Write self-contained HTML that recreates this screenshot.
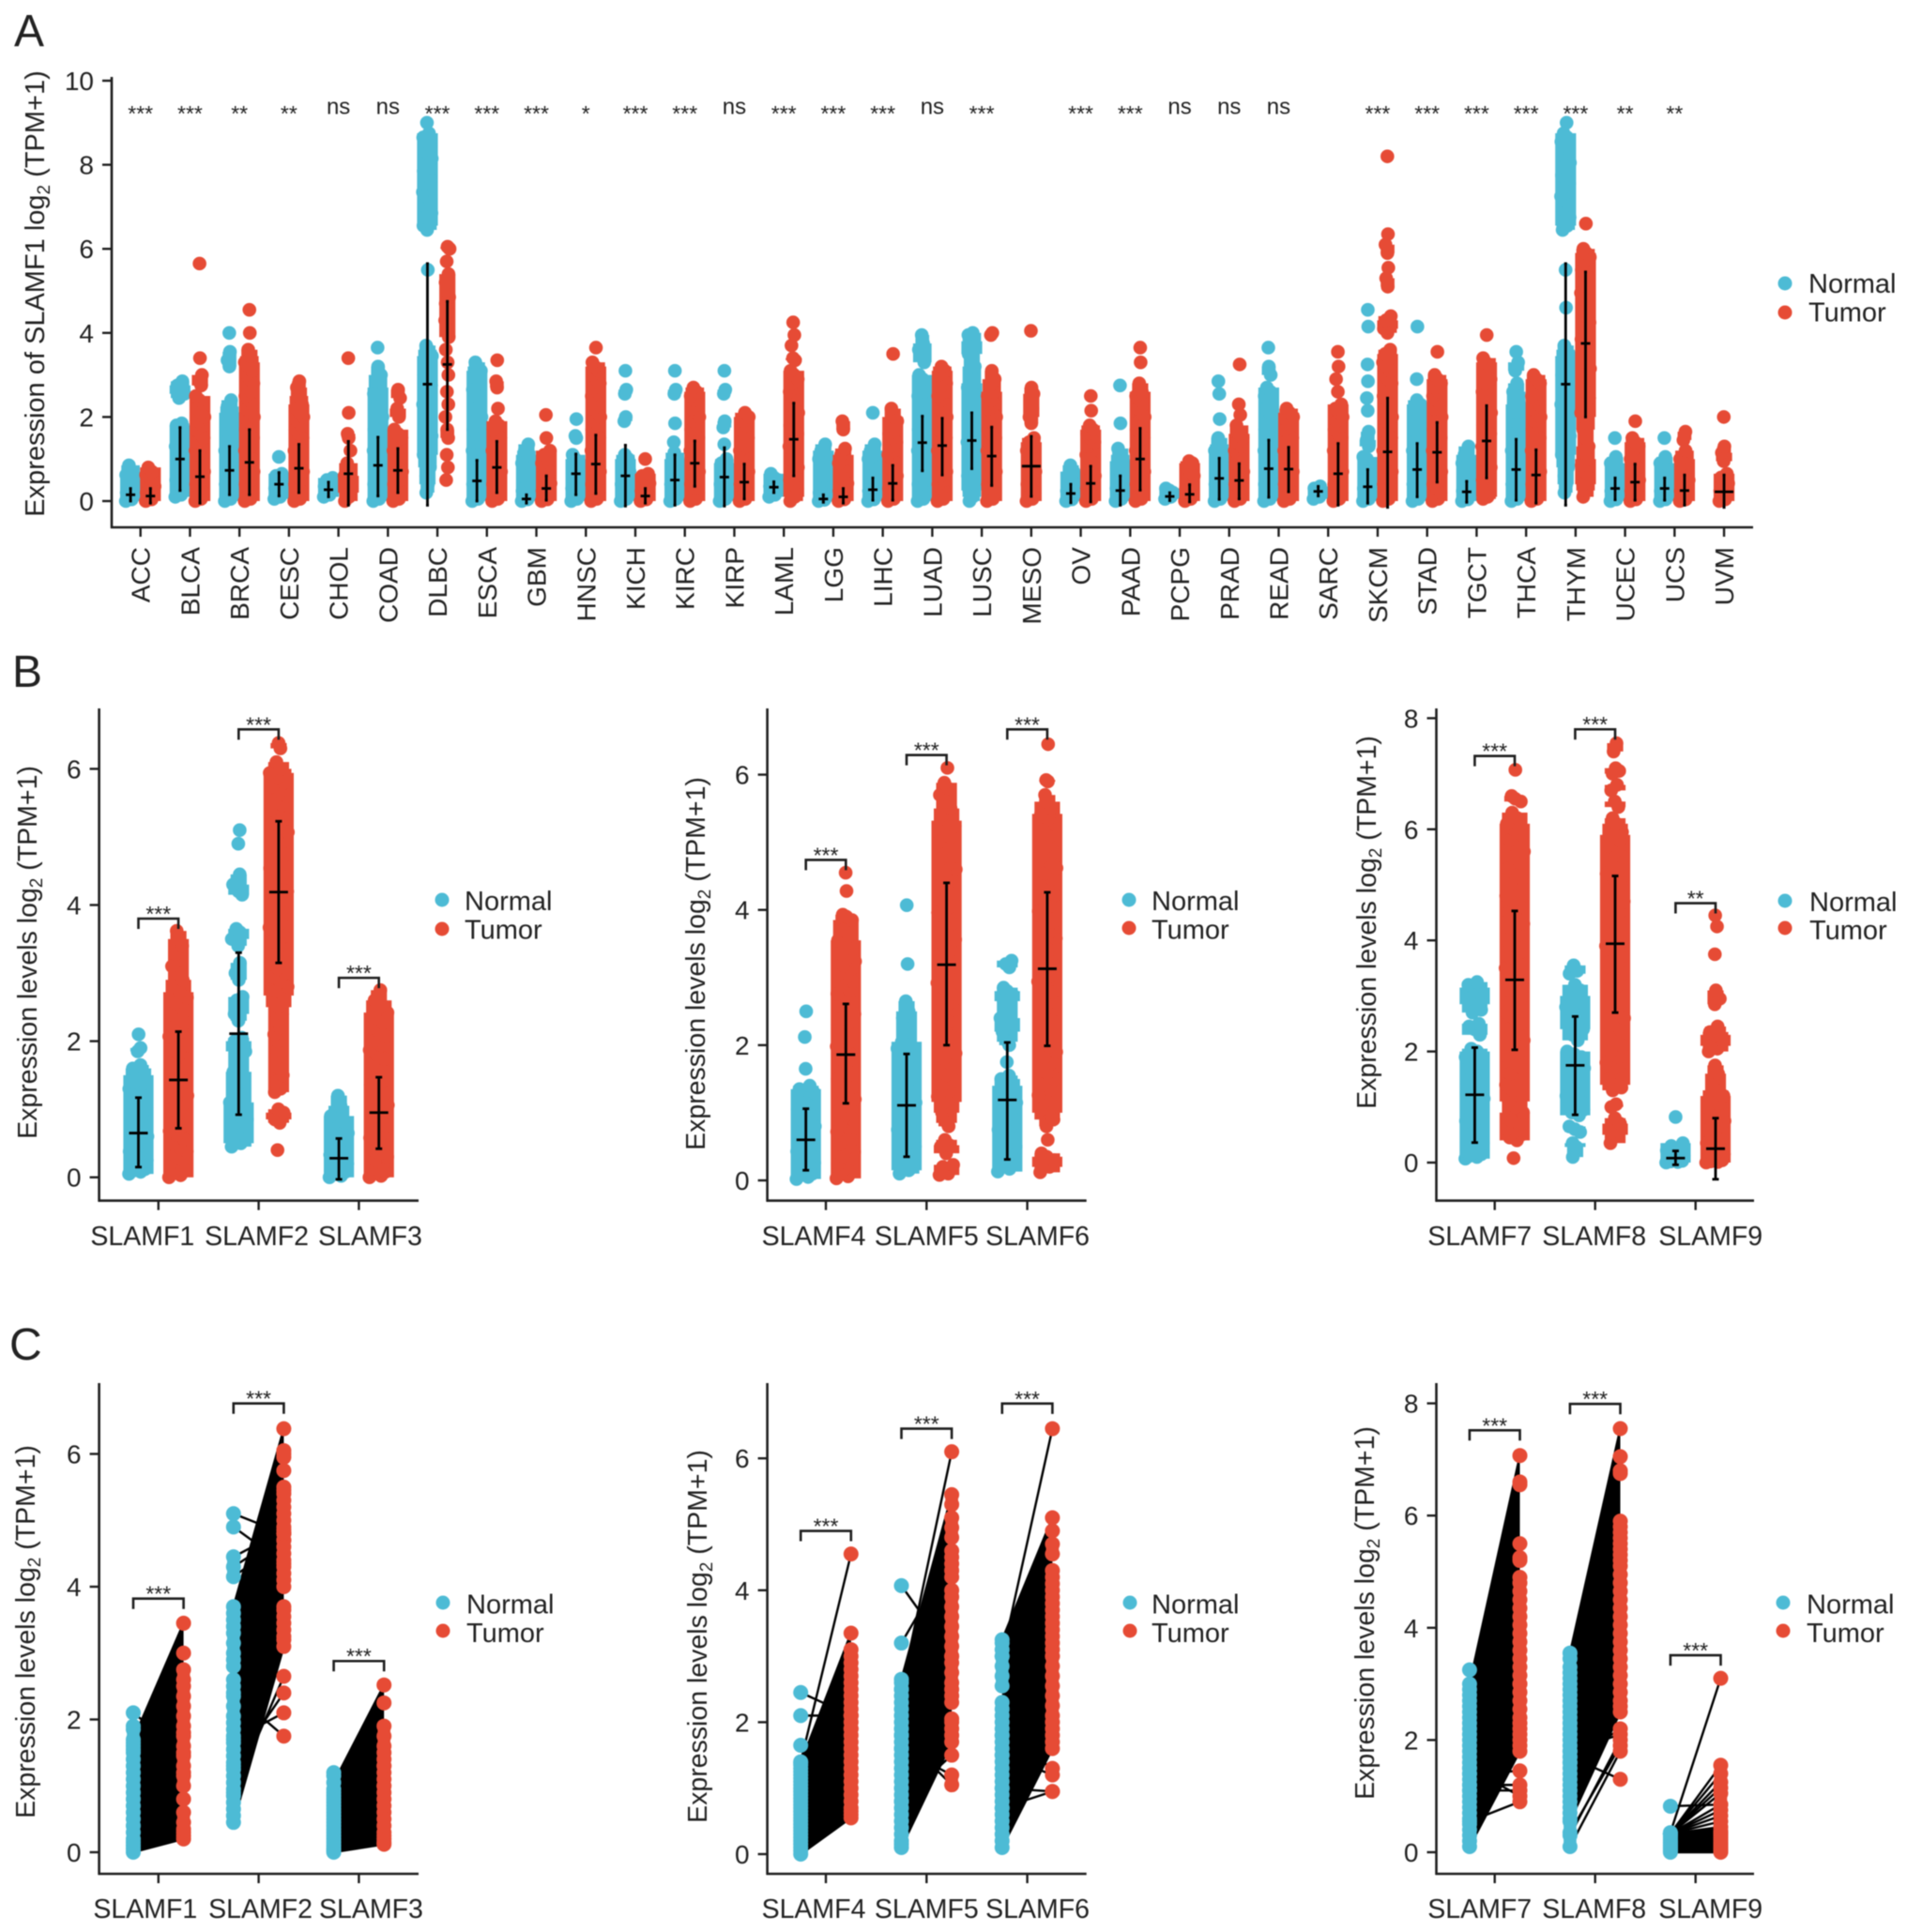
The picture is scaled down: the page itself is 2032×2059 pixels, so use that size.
<!DOCTYPE html>
<html lang="en"><head><meta charset="utf-8"><title>SLAMF expression figure</title>
<style>
html,body{margin:0;padding:0;background:#fff}
svg{display:block;font-family:"Liberation Sans",sans-serif;fill:#222;filter:blur(.6px)}
</style></head><body>
<svg id="figure" xmlns="http://www.w3.org/2000/svg" width="2032" height="2059" viewBox="0 0 2032 2059">
<rect width="2032" height="2059" fill="#fff"/>
<text x="15" y="49" font-size="48">A</text>
<text x="13" y="732" font-size="48">B</text>
<text x="10" y="1449" font-size="48">C</text>
<text transform="translate(47 313) rotate(-90)" text-anchor="middle" font-size="29">Expression of SLAMF1 log<tspan dy="6" font-size="19">2</tspan><tspan dy="-6"> (TPM+1)</tspan></text>
<text transform="translate(39 1015) rotate(-90)" text-anchor="middle" font-size="28.5">Expression levels log<tspan dy="6" font-size="19">2</tspan><tspan dy="-6"> (TPM+1)</tspan></text>
<text transform="translate(751 1027) rotate(-90)" text-anchor="middle" font-size="28.5">Expression levels log<tspan dy="6" font-size="19">2</tspan><tspan dy="-6"> (TPM+1)</tspan></text>
<text transform="translate(1466 983) rotate(-90)" text-anchor="middle" font-size="28.5">Expression levels log<tspan dy="6" font-size="19">2</tspan><tspan dy="-6"> (TPM+1)</tspan></text>
<text transform="translate(37 1739) rotate(-90)" text-anchor="middle" font-size="28.5">Expression levels log<tspan dy="6" font-size="19">2</tspan><tspan dy="-6"> (TPM+1)</tspan></text>
<text transform="translate(753 1744) rotate(-90)" text-anchor="middle" font-size="28.5">Expression levels log<tspan dy="6" font-size="19">2</tspan><tspan dy="-6"> (TPM+1)</tspan></text>
<text transform="translate(1464 1719) rotate(-90)" text-anchor="middle" font-size="28.5">Expression levels log<tspan dy="6" font-size="19">2</tspan><tspan dy="-6"> (TPM+1)</tspan></text>

<g><circle cx="1902" cy="302" r="7.5" fill="#4DBBD5"/><circle cx="1902" cy="333" r="7.5" fill="#E64B35"/><text x="1927" y="312" font-size="29">Normal</text><text x="1927" y="342.5" font-size="29">Tumor</text></g>
<g><circle cx="471" cy="959" r="7.5" fill="#4DBBD5"/><circle cx="471" cy="990" r="7.5" fill="#E64B35"/><text x="495" y="970" font-size="29">Normal</text><text x="495" y="1000.5" font-size="29">Tumor</text></g>
<g><circle cx="1203" cy="959" r="7.5" fill="#4DBBD5"/><circle cx="1203" cy="989" r="7.5" fill="#E64B35"/><text x="1227" y="970" font-size="29">Normal</text><text x="1227" y="1000.5" font-size="29">Tumor</text></g>
<g><circle cx="1902" cy="960" r="7.5" fill="#4DBBD5"/><circle cx="1902" cy="989" r="7.5" fill="#E64B35"/><text x="1928" y="971" font-size="29">Normal</text><text x="1928" y="1001" font-size="29">Tumor</text></g>
<g><circle cx="472" cy="1708" r="7.5" fill="#4DBBD5"/><circle cx="472" cy="1738" r="7.5" fill="#E64B35"/><text x="497" y="1719.5" font-size="29">Normal</text><text x="497" y="1750" font-size="29">Tumor</text></g>
<g><circle cx="1204" cy="1708" r="7.5" fill="#4DBBD5"/><circle cx="1204" cy="1738" r="7.5" fill="#E64B35"/><text x="1227" y="1719.5" font-size="29">Normal</text><text x="1227" y="1750" font-size="29">Tumor</text></g>
<g><circle cx="1900" cy="1708" r="7.5" fill="#4DBBD5"/><circle cx="1900" cy="1738" r="7.5" fill="#E64B35"/><text x="1925" y="1719.5" font-size="29">Normal</text><text x="1925" y="1750" font-size="29">Tumor</text></g>
</svg>
<script>
/* ---------- Panel A data ---------- */
const cancersA=["ACC","BLCA","BRCA","CESC","CHOL","COAD","DLBC","ESCA","GBM","HNSC","KICH","KIRC","KIRP","LAML","LGG","LIHC","LUAD","LUSC","MESO","OV","PAAD","PCPG","PRAD","READ","SARC","SKCM","STAD","TGCT","THCA","THYM","UCEC","UCS","UVM"];
const sigA=["***","***","**","**","ns","ns","***","***","***","*","***","***","ns","***","***","***","ns","***","","***","***","ns","ns","ns","","***","***","***","***","***","**","**",""];
const yTicksA=[0,2,4,6,8,10];
const normalA=[
[0,.04,.08,.12,.16,.2,.25,.3,.35,.4,.45,.5,.56,.62,.7,.85],
[.1,.15,.2,.3,.4,.5,.6,.7,.8,.9,1,1.1,1.2,1.3,1.4,1.5,1.6,1.7,1.8,1.85,2.45,2.55,2.65,2.75,2.85],
[0,.05,.1,.2,.3,.4,.5,.6,.7,.8,.9,1,1.1,1.2,1.3,1.4,1.5,1.6,1.7,1.8,1.9,2,2.1,2.25,2.4,3.2,3.35,3.55,4],
[.05,.1,.15,.2,.25,.3,.35,.4,.45,.5,.6,.65,1.05],
[.1,.15,.2,.25,.3,.35,.4,.5,.55],
[0,.05,.1,.2,.3,.4,.5,.6,.7,.8,.9,1,1.1,1.2,1.3,1.4,1.5,1.6,1.7,1.8,1.9,2,2.1,2.2,2.3,2.4,2.55,2.7,2.85,3,3.2,3.65],
[.2,.4,.6,.8,.95,1.1,1.25,1.4,1.55,1.7,1.85,2,2.15,2.3,2.45,2.6,2.75,2.9,3,3.15,3.3,3.45,3.6,3.7,5.5,6.45,6.55,6.65,6.75,6.85,6.95,7.05,7.15,7.25,7.35,7.45,7.55,7.65,7.75,7.85,7.95,8.05,8.15,8.25,8.35,8.45,8.55,8.65,8.75,9],
[0,.05,.1,.2,.3,.4,.5,.6,.7,.8,.9,1,1.1,1.2,1.3,1.4,1.5,1.6,1.7,1.8,1.9,2,2.1,2.2,2.35,2.5,2.65,2.8,2.95,3.1,3.2,3.3],
[0,.04,.08,.12,.18,.24,.3,.36,.42,.5,.6,.7,.8,.9,1.1,1.2,1.35],
[0,.05,.1,.15,.2,.3,.4,.5,.6,.7,.8,.9,1,1.1,1.5,1.55,1.95],
[0,.05,.1,.2,.3,.4,.5,.6,.7,.8,.9,1,1.1,1.9,2,2.55,2.65,3.1],
[0,.05,.1,.2,.3,.4,.5,.6,.7,.8,.9,1,1.15,1.4,1.85,2.55,2.65,3.1],
[0,.05,.1,.2,.3,.4,.5,.6,.7,.8,.9,1,1.35,1.75,1.9,2.55,2.65,3.1],
[.1,.15,.2,.25,.3,.35,.4,.45,.5,.55,.65],
[0,.03,.06,.1,.15,.2,.3,.4,.5,.6,.7,.8,.9,1,1.1,1.2,1.35],
[0,.04,.08,.12,.18,.24,.3,.4,.5,.6,.7,.8,.9,1,1.1,1.2,1.35,2.1],
[0,.05,.1,.2,.3,.4,.5,.6,.7,.8,.9,1,1.1,1.2,1.3,1.4,1.5,1.6,1.7,1.8,1.9,2,2.1,2.2,2.3,2.4,2.5,2.6,2.7,2.8,2.9,3,3.3,3.45,3.6,3.75,3.95],
[0,.1,.25,.4,.5,.6,.7,.8,.9,1,1.1,1.2,1.3,1.4,1.5,1.6,1.7,1.8,1.9,2,2.1,2.2,2.3,2.4,2.5,2.6,2.7,2.8,3,3.2,3.35,3.5,3.7,3.8,3.95,4],
[],
[0,.04,.08,.12,.18,.24,.3,.36,.42,.5,.6,.7,.85],
[0,.05,.1,.15,.2,.3,.4,.5,.6,.7,.8,.95,1.1,1.25,1.85,2.75],
[.05,.1,.15,.2,.25,.3],
[0,.05,.1,.2,.3,.4,.5,.6,.7,.8,.9,1,1.1,1.2,1.35,1.5,1.95,2.55,2.85],
[0,.05,.1,.2,.3,.4,.5,.6,.7,.8,.9,1,1.1,1.2,1.3,1.4,1.5,1.6,1.7,1.8,1.9,2,2.1,2.2,2.3,2.4,2.5,2.6,2.7,3,3.2,3.65],
[.05,.1,.15,.2,.25,.3,.35],
[0,.05,.1,.15,.2,.3,.4,.5,.6,.7,.8,.9,1,1.05,1.3,1.45,1.65,2.15,2.45,2.85,3.25,4.15,4.55],
[0,.05,.1,.2,.3,.4,.5,.6,.7,.8,.9,1,1.1,1.2,1.3,1.4,1.5,1.6,1.7,1.8,1.9,2,2.1,2.2,2.3,2.4,2.9,4.15],
[0,.04,.08,.12,.18,.24,.3,.36,.42,.5,.6,.7,.8,.9,1,1.1,1.3],
[0,.05,.1,.2,.3,.4,.5,.6,.7,.8,.9,1,1.1,1.2,1.3,1.4,1.5,1.6,1.7,1.8,1.9,2,2.1,2.2,2.3,2.45,2.6,2.8,3.1,3.3,3.55],
[.2,.4,.6,.8,.95,1.1,1.25,1.4,1.55,1.7,1.85,2,2.15,2.3,2.45,2.6,2.75,2.9,3,3.15,3.3,3.45,3.6,3.7,4.6,5.5,6.45,6.55,6.65,6.75,6.85,6.95,7.05,7.15,7.25,7.35,7.45,7.55,7.65,7.75,7.85,7.95,8.05,8.15,8.25,8.35,8.45,8.55,8.65,8.75,9],
[0,.04,.08,.12,.18,.24,.3,.36,.42,.5,.6,.7,.8,.9,1.05,1.5],
[0,.04,.08,.12,.18,.24,.3,.36,.42,.5,.6,.7,.8,.9,1.05,1.5],
[]
];
const tumorA=[
[0,.04,.08,.12,.16,.2,.25,.3,.35,.4,.45,.5,.56,.62,.7,.8],
[0,.05,.1,.2,.3,.4,.5,.6,.7,.8,.9,1,1.1,1.2,1.3,1.4,1.5,1.6,1.7,1.8,1.9,2,2.1,2.2,2.3,2.4,2.5,2.75,2.85,3,3.4,5.65],
[0,.05,.1,.2,.3,.4,.5,.6,.7,.8,.9,1,1.1,1.2,1.3,1.4,1.5,1.6,1.7,1.8,1.9,2,2.1,2.2,2.3,2.4,2.5,2.6,2.7,2.8,2.9,3,3.1,3.2,3.3,3.45,3.6,4,4.55],
[0,.05,.1,.2,.3,.4,.5,.6,.7,.8,.9,1,1.1,1.2,1.3,1.4,1.5,1.6,1.7,1.8,1.9,2,2.1,2.2,2.3,2.5,2.7,2.85],
[0,.1,.2,.3,.45,.6,.75,.9,1.2,1.5,1.6,2.1,3.4],
[0,.05,.1,.2,.3,.4,.5,.6,.7,.8,.9,1,1.1,1.2,1.3,1.4,1.5,1.6,1.7,2,2.2,2.45,2.65],
[.5,.8,1.1,1.5,1.7,2,2.3,2.6,3,3.3,3.6,3.9,4.1,4.3,4.5,4.7,4.85,5,5.2,5.4,5.7,6,6.05],
[0,.05,.1,.2,.3,.4,.5,.6,.7,.8,.9,1,1.1,1.2,1.3,1.4,1.5,1.6,1.7,1.8,1.9,2.2,2.7,2.85,3.35],
[0,.04,.08,.12,.18,.24,.3,.36,.42,.5,.6,.7,.8,.9,1,1.1,1.2,1.5,2.05],
[0,.05,.1,.2,.3,.4,.5,.6,.7,.8,.9,1,1.1,1.2,1.3,1.4,1.5,1.6,1.7,1.8,1.9,2,2.1,2.2,2.3,2.4,2.5,2.6,2.7,2.8,2.9,3,3.1,3.2,3.3,3.65],
[0,.04,.08,.12,.18,.24,.3,.36,.42,.5,.6,.65,1],
[0,.05,.1,.2,.3,.4,.5,.6,.7,.8,.9,1,1.1,1.2,1.3,1.4,1.5,1.6,1.7,1.8,1.9,2,2.1,2.2,2.3,2.4,2.5,2.6,2.7],
[0,.05,.1,.2,.3,.4,.5,.6,.7,.8,.9,1,1.1,1.2,1.3,1.4,1.5,1.6,1.7,1.8,1.9,2,2.1],
[0,.1,.2,.3,.4,.5,.6,.7,.8,.9,1,1.1,1.2,1.3,1.4,1.5,1.6,1.7,1.8,1.9,2,2.1,2.2,2.3,2.4,2.5,2.6,2.7,2.8,2.9,3,3.1,3.35,3.4,3.7,3.95,4.25],
[0,.04,.08,.12,.18,.24,.3,.36,.42,.5,.6,.7,.8,.9,1,1.1,1.25,1.7,1.9],
[0,.05,.1,.15,.2,.3,.4,.5,.6,.7,.8,.9,1,1.1,1.2,1.3,1.4,1.5,1.6,1.7,1.8,1.9,2,2.2,3.5],
[0,.05,.1,.2,.3,.4,.5,.6,.7,.8,.9,1,1.1,1.2,1.3,1.4,1.5,1.6,1.7,1.8,1.9,2,2.1,2.2,2.3,2.4,2.5,2.6,2.7,2.8,2.9,3,3.1,3.2],
[0,.05,.1,.2,.3,.4,.5,.6,.7,.8,.9,1,1.1,1.2,1.3,1.4,1.5,1.6,1.7,1.8,1.9,2,2.1,2.2,2.3,2.4,2.5,2.6,2.75,2.9,3.1,3.95,4],
[0,.05,.1,.2,.3,.4,.5,.6,.7,.8,.9,1,1.1,1.2,1.3,1.4,1.5,1.85,2,2.2,2.35,2.55,2.7,4.05],
[0,.05,.1,.15,.2,.3,.4,.5,.6,.7,.8,.9,1,1.1,1.2,1.3,1.4,1.5,1.6,1.7,1.8,2.15,2.5],
[0,.05,.1,.2,.3,.4,.5,.6,.7,.8,.9,1,1.1,1.2,1.3,1.4,1.5,1.6,1.7,1.8,1.9,2,2.1,2.2,2.3,2.4,2.5,2.6,2.8,3.3,3.65],
[0,.05,.1,.15,.2,.3,.4,.5,.6,.7,.8,.9,.95],
[0,.05,.1,.2,.3,.4,.5,.6,.7,.8,.9,1,1.1,1.2,1.3,1.4,1.5,1.6,1.8,2.05,2.3,3.25],
[0,.05,.1,.2,.3,.4,.5,.6,.7,.8,.9,1,1.1,1.2,1.3,1.4,1.5,1.6,1.7,1.8,1.9,2,2.1,2.2],
[0,.05,.1,.2,.3,.4,.5,.6,.7,.8,.9,1,1.1,1.2,1.3,1.4,1.5,1.6,1.7,1.8,1.9,2,2.1,2.2,2.3,2.6,2.9,3.2,3.55],
[0,.05,.1,.2,.3,.4,.5,.6,.7,.8,.9,1,1.1,1.2,1.3,1.4,1.5,1.6,1.7,1.8,1.9,2,2.1,2.2,2.3,2.4,2.5,2.6,2.7,2.8,2.9,3,3.1,3.2,3.3,3.4,3.5,3.6,4,4.1,4.2,4.3,4.4,5.1,5.3,5.55,5.9,6.1,6.35,8.2],
[0,.05,.1,.2,.3,.4,.5,.6,.7,.8,.9,1,1.1,1.2,1.3,1.4,1.5,1.6,1.7,1.8,1.9,2,2.1,2.2,2.3,2.4,2.5,2.6,2.7,2.8,2.9,3,3.55],
[.05,.1,.2,.3,.4,.5,.6,.7,.8,.9,1,1.1,1.2,1.3,1.4,1.5,1.6,1.7,1.8,1.9,2,2.1,2.2,2.3,2.4,2.5,2.6,2.7,2.8,2.9,3,3.1,3.2,3.3,3.4,3.95],
[0,.05,.1,.2,.3,.4,.5,.6,.7,.8,.9,1,1.1,1.2,1.3,1.4,1.5,1.6,1.7,1.8,1.9,2,2.1,2.2,2.3,2.4,2.5,2.6,2.7,2.8,2.9,3],
[.1,.25,.4,.55,.7,.85,1,1.15,1.3,1.5,1.7,1.85,2,2.1,2.2,2.3,2.45,2.6,2.75,2.9,3,3.15,3.3,3.45,3.6,3.7,3.85,4,4.1,4.25,4.4,4.55,4.65,4.8,4.95,5.1,5.2,5.3,5.4,5.5,5.6,5.7,5.8,5.9,6,6.6],
[0,.04,.08,.12,.18,.24,.3,.4,.5,.6,.7,.8,.9,1,1.1,1.2,1.3,1.4,1.5,1.9],
[0,.04,.08,.12,.18,.24,.3,.4,.5,.6,.7,.8,.9,1,1.2,1.45,1.65],
[0,.04,.08,.12,.18,.24,.3,.36,.42,.5,.56,.65,.95,1.15,1.3,2]
];
const statsNormalA=[[.15,0,.3],[1,.25,1.75],[.73,.15,1.3],[.4,.12,.68],[.27,.1,.45],[.85,.12,1.52],[2.78,-.1,5.65],[.48,0,.97],[.05,-.05,.15],[.65,.15,1.12],[.6,-.12,1.33],[.5,-.1,1.1],[.57,-.12,1.27],[.33,.2,.46],[.05,-.03,.15],[.27,.02,.55],[1.39,.72,2.02],[1.44,.77,2.1],null,[.18,-.04,.4],[.25,-.1,.6],[.11,.01,.2],[.54,.04,1.02],[.77,.09,1.45],[.23,.12,.35],[.34,-.05,.75],[.75,.1,1.37],[.22,-.03,.47],[.75,.02,1.47],[2.78,-.1,5.65],[.3,.03,.55],[.3,.02,.55],null];
const statsTumorA=[[.12,-.05,.3],[.58,-.05,1.2],[.92,.15,1.7],[.78,.2,1.35],[.65,-.1,1.42],[.73,.2,1.25],[3.25,1.7,4.75],[.8,.2,1.42],[.3,.02,.6],[.88,.18,1.57],[.12,-.05,.3],[.9,.35,1.43],[.45,.05,.88],[1.47,.6,2.33],[.1,-.05,.3],[.42,.02,.85],[1.32,.62,1.97],[1.07,.37,1.76],[.83,.11,1.54],[.42,-.02,.83],[1,.26,1.73],[.16,-.02,.39],[.49,.05,.89],[.76,.22,1.28],[.65,-.1,1.37],[1.17,-.15,2.45],[1.16,.45,1.87],[1.43,.55,2.27],[.62,-.05,1.22],[3.75,2,5.45],[.45,.02,.88],[.25,-.1,.62],[.22,-.15,.62]];

/* ---------- Panel B data ---------- */
const genesB1=["SLAMF1","SLAMF2","SLAMF3"];
const genesB2=["SLAMF4","SLAMF5","SLAMF6"];
const genesB3=["SLAMF7","SLAMF8","SLAMF9"];
const sigB1=["***","***","***"];
const sigB2=["***","***","***"];
const sigB3=["***","***","**"];
const yTicksB1=[0,2,4,6];
const yTicksB2=[0,2,4,6];
const yTicksB3=[0,2,4,6,8];
const bracketB1=[3.8,6.58,2.93];
const bracketB2=[4.74,6.29,6.67];
const bracketB3=[7.32,7.8,4.67];
const normalB1=[
[.05,.08,.1,.12,.15,.18,.2,.22,.25,.28,.3,.33,.35,.38,.4,.42,.45,.48,.5,.52,.55,.6,.65,.7,.75,.8,.85,.9,.95,1,1.05,1.1,1.2,1.25,1.3,1.35,1.4,1.45,1.5,1.6,1.65,1.85,1.9,2.1],
[.45,.5,.55,.6,.65,.7,.75,.8,.85,.9,.95,1,1.05,1.1,1.2,1.3,1.4,1.45,1.55,1.65,1.75,1.85,1.95,2,2.05,2.3,2.4,2.5,2.6,2.65,2.9,3,3.15,3.4,3.5,3.6,3.65,4.15,4.2,4.3,4.45,4.9,5.1],
[0,.02,.05,.08,.1,.12,.15,.18,.2,.22,.25,.28,.3,.33,.36,.4,.44,.48,.52,.56,.6,.65,.7,.75,.8,.85,.9,1.05,1.2]
];
const tumorB1=[
[0,.03,.06,.1,.15,.2,.26,.32,.38,.44,.5,.56,.62,.68,.74,.8,.87,.94,1,1.07,1.14,1.2,1.27,1.34,1.4,1.47,1.54,1.6,1.67,1.74,1.8,1.87,1.94,2,2.07,2.14,2.2,2.27,2.34,2.4,2.48,2.56,2.64,2.72,2.8,2.9,3,3.1,3.2,3.28,3.4,3.5,3.62],
[.4,.8,.85,.95,1,1.25,1.3,1.4,1.5,1.6,1.75,1.85,2,2.1,2.2,2.3,2.4,2.5,2.6,2.67,2.74,2.8,2.87,2.94,3,3.07,3.14,3.2,3.27,3.34,3.4,3.47,3.54,3.6,3.67,3.74,3.8,3.87,3.94,4,4.07,4.14,4.2,4.27,4.34,4.4,4.47,4.54,4.6,4.67,4.74,4.8,4.87,4.94,5,5.07,5.14,5.2,5.27,5.34,5.4,5.47,5.54,5.6,5.67,5.74,5.8,5.87,5.94,6,6.1,6.3,6.38],
[0,.02,.05,.08,.11,.15,.2,.25,.3,.35,.4,.46,.52,.58,.64,.7,.76,.82,.88,.94,1,1.06,1.12,1.18,1.24,1.3,1.36,1.42,1.48,1.54,1.6,1.67,1.74,1.8,1.87,1.94,2,2.07,2.14,2.2,2.27,2.34,2.42,2.5,2.6,2.75]
];
const statsNormalB1=[[.65,.15,1.17],[2.11,.92,3.3],[.28,-.03,.57]];
const statsTumorB1=[[1.43,.72,2.14],[4.19,3.15,5.23],[.95,.42,1.47]];
const normalB2=[
[.02,.05,.08,.1,.13,.16,.2,.23,.26,.3,.33,.36,.4,.43,.46,.5,.55,.6,.65,.7,.75,.8,.85,.9,.95,1,1.05,1.1,1.2,1.3,1.33,1.35,1.4,1.65,2.12,2.5],
[.1,.15,.2,.25,.3,.35,.4,.45,.5,.55,.6,.65,.7,.75,.8,.85,.9,.95,1,1.05,1.1,1.15,1.2,1.25,1.3,1.4,1.45,1.5,1.55,1.6,1.7,1.75,1.85,1.9,1.95,2,2.05,2.2,2.3,2.4,2.5,2.65,3.2,4.07],
[.13,.17,.2,.25,.3,.35,.4,.45,.5,.55,.6,.65,.7,.75,.8,.85,.9,.95,1,1.05,1.1,1.15,1.2,1.3,1.35,1.4,1.5,1.55,1.75,2,2.05,2.2,2.25,2.3,2.4,2.5,2.65,2.75,2.8,2.85,3.15,3.2,3.25]
];
const tumorB2=[
[.03,.06,.1,.14,.18,.24,.3,.36,.42,.48,.54,.6,.66,.72,.78,.84,.9,.96,1.02,1.08,1.14,1.2,1.26,1.32,1.38,1.44,1.5,1.56,1.62,1.68,1.74,1.8,1.86,1.92,1.98,2.04,2.1,2.16,2.22,2.28,2.34,2.4,2.46,2.52,2.58,2.64,2.7,2.76,2.82,2.88,2.94,3,3.06,3.12,3.18,3.24,3.3,3.36,3.42,3.48,3.55,3.62,3.7,3.85,3.9,3.93,4.28,4.55],
[.08,.1,.2,.23,.4,.5,.52,.6,.8,.85,1,1.08,1.16,1.24,1.32,1.4,1.48,1.56,1.64,1.72,1.8,1.88,1.96,2.04,2.12,2.2,2.28,2.36,2.44,2.52,2.6,2.68,2.76,2.84,2.92,3,3.08,3.16,3.24,3.32,3.4,3.48,3.56,3.64,3.72,3.8,3.88,3.96,4.04,4.12,4.2,4.28,4.36,4.44,4.52,4.6,4.68,4.76,4.84,4.92,5,5.08,5.16,5.24,5.32,5.4,5.5,5.6,5.7,5.8,5.88,6.1],
[.12,.2,.25,.3,.35,.4,.6,.8,.9,1,1.05,1.1,1.18,1.26,1.34,1.42,1.5,1.58,1.66,1.74,1.82,1.9,1.98,2.06,2.14,2.22,2.3,2.38,2.46,2.54,2.62,2.7,2.78,2.86,2.94,3.02,3.1,3.18,3.26,3.34,3.42,3.5,3.58,3.66,3.74,3.82,3.9,3.98,4.06,4.14,4.22,4.3,4.38,4.46,4.54,4.62,4.7,4.78,4.86,4.94,5.02,5.1,5.18,5.26,5.34,5.42,5.5,5.6,5.7,5.9,5.92,6.45]
];
const statsNormalB2=[[.6,.15,1.06],[1.11,.35,1.87],[1.19,.31,2.04]];
const statsTumorB2=[[1.86,1.14,2.61],[3.19,2,4.4],[3.13,1.99,4.26]];
const normalB3=[
[.07,.1,.12,.15,.18,.2,.25,.3,.35,.4,.5,.6,.7,.75,.8,.85,.9,.95,1,1.05,1.1,1.15,1.2,1.25,1.3,1.35,1.4,1.45,1.5,1.6,1.65,1.7,1.8,1.85,1.9,2,2.05,2.3,2.4,2.45,2.5,2.7,2.75,2.85,2.95,3.05,3.15,3.2,3.25],
[.1,.28,.35,.55,.6,.65,.85,.9,.95,1,1.05,1.1,1.15,1.2,1.25,1.3,1.4,1.45,1.5,1.6,1.65,1.7,1.75,1.8,1.9,1.95,2,2.2,2.3,2.4,2.5,2.55,2.6,2.7,2.8,2.9,3,3.1,3.2,3.4,3.45,3.55],
[0,.01,.02,.03,.05,.06,.08,.1,.12,.14,.16,.18,.2,.22,.25,.3,.35,.82]
];
const tumorB3=[
[.08,.4,.45,.5,.55,.6,.7,.75,.9,1,1.1,1.2,1.3,1.4,1.5,1.6,1.7,1.8,1.9,2,2.1,2.2,2.3,2.4,2.5,2.6,2.7,2.8,2.9,3,3.1,3.2,3.3,3.4,3.5,3.6,3.7,3.8,3.9,4,4.1,4.2,4.3,4.4,4.5,4.6,4.7,4.8,4.9,5,5.1,5.2,5.3,5.4,5.5,5.6,5.7,5.8,5.9,6,6.1,6.2,6.3,6.5,6.55,6.6,7.07],
[.35,.5,.55,.7,.8,1,1.05,1.3,1.35,1.4,1.5,1.6,1.7,1.8,1.9,2,2.1,2.2,2.3,2.4,2.5,2.6,2.7,2.8,2.9,3,3.1,3.2,3.3,3.4,3.5,3.6,3.7,3.8,3.9,4,4.1,4.2,4.3,4.4,4.5,4.6,4.7,4.8,4.9,5,5.1,5.2,5.3,5.4,5.5,5.6,5.7,5.8,5.9,5.95,6.1,6.2,6.4,6.5,6.7,6.8,7,7.05,7.1,7.4,7.55],
[0,.01,.02,.04,.06,.08,.1,.12,.15,.18,.2,.25,.3,.35,.4,.45,.5,.55,.6,.65,.7,.75,.8,.85,.9,.95,1,1.05,1.1,1.2,1.3,1.45,1.6,1.75,2,2.05,2.1,2.2,2.3,2.35,2.45,2.85,2.95,3.1,3.75,4.25,4.45]
];
const statsNormalB3=[[1.22,.36,2.07],[1.75,.86,2.63],[.08,-.04,.21]];
const statsTumorB3=[[3.29,2.03,4.53],[3.94,2.7,5.16],[.25,-.3,.8]];

/* ---------- Panel C data (paired samples: normal[i] joins tumor[i]) ---------- */
const sigC1=["***","***","***"];
const sigC2=["***","***","***"];
const sigC3=["***","***","***"];
const bracketC1=[3.82,6.76,2.88];
const bracketC2=[4.9,6.45,6.83];
const bracketC3=[7.52,7.99,3.51];
/* number of leading pairs that belong to the dense bundle; the rest are individual crossing lines */
const bundleC1=[22,30,22];
const bundleC2=[30,28,29];
const bundleC3=[30,31,16];
const normalC1=[
[0,.05,.1,.15,.2,.3,.4,.5,.6,.7,.8,.9,1,1.1,1.2,1.3,1.4,1.5,1.55,1.6,1.65,1.7,2.1,1.9,1.85],
[.45,.55,.65,.75,.85,.95,1.05,1.15,1.25,1.35,1.45,1.55,1.65,1.75,1.85,1.95,2.05,2.2,2.35,2.5,2.6,2.8,2.9,3,3.15,3.3,3.4,3.5,3.6,3.7,4.15,4.3,4.45,5.1,4.9,.9,1.3,1.7,2.4],
[0,.03,.06,.1,.15,.2,.25,.3,.35,.4,.45,.5,.55,.6,.65,.7,.75,.8,.85,.9,.95,1.05,1.15,1.2]
];
const tumorC1=[
[.2,.25,.3,.35,.45,.6,.8,1,1.15,1.3,1.45,1.6,1.75,1.9,2.05,2.2,2.35,2.5,2.6,2.75,3,3.45,1.5,1.2,1.8],
[3.1,3.2,3.25,3.35,3.45,3.55,3.65,3.7,4,4.1,4.2,4.3,4.4,4.5,4.6,4.7,4.8,4.9,5,5.1,5.2,5.3,5.4,5.45,5.5,5.75,5.95,6,6.05,6.38,4.7,4.8,4.85,4.8,4.35,2.65,2.4,2.1,1.75],
[.12,.15,.2,.25,.3,.4,.5,.6,.7,.8,.9,1,1.1,1.2,1.3,1.4,1.5,1.6,1.75,1.9,2.25,2.52,1.3,1]
];
const normalC2=[
[0,.05,.1,.15,.2,.25,.3,.35,.4,.45,.5,.55,.6,.65,.7,.75,.8,.85,.9,.95,1,1.05,1.1,1.15,1.2,1.25,1.3,1.35,1.38,1.4,1.65,2.45,2.1],
[.1,.15,.2,.3,.4,.5,.6,.7,.8,.9,1,1.1,1.2,1.3,1.4,1.5,1.6,1.7,1.8,1.9,2,2.1,2.2,2.3,2.4,2.5,2.6,2.65,3.2,4.07,2.5,1.8,1.6,.8],
[.1,.2,.3,.4,.5,.6,.7,.8,.9,1,1.1,1.2,1.3,1.4,1.5,1.6,1.7,1.8,1.9,2,2.1,2.2,2.3,2.55,2.7,2.85,3,3.1,3.25,.7,1,1.5,1.8,3,3.2]
];
const tumorC2=[
[.55,.6,.65,.7,.8,.9,1,1.1,1.2,1.3,1.4,1.5,1.6,1.7,1.8,1.9,2,2.1,2.2,2.3,2.4,2.5,2.6,2.7,2.8,2.9,3,3.1,3.35,4.55,1.9,2.1,2.1],
[1.7,1.8,1.9,2,2.05,2.3,2.4,2.5,2.6,2.75,2.9,3,3.15,3.3,3.45,3.6,3.75,3.9,4,4.2,4.3,4.4,4.6,4.8,4.95,5.1,5.3,5.45,4.5,3,6.1,1.05,1.2,1.5],
[1.6,1.7,1.8,1.9,2,2.1,2.25,2.4,2.55,2.7,2.85,3,3.1,3.2,3.3,3.4,3.5,3.6,3.7,3.8,3.9,4,4.1,4.2,4.3,4.55,4.7,4.9,5.1,.95,.95,1.2,1.3,6.45,3]
];
const normalC3=[
[.1,.2,.3,.4,.5,.6,.7,.8,.9,1,1.1,1.2,1.3,1.4,1.5,1.6,1.7,1.8,1.9,2,2.1,2.2,2.3,2.4,2.5,2.6,2.7,2.8,2.9,3,.55,1.5,1.1,1.2,3.25,1.4],
[.55,.6,.7,.8,.9,1,1.1,1.2,1.3,1.4,1.5,1.6,1.7,1.8,1.9,2,2.1,2.2,2.3,2.4,2.5,2.6,2.7,2.8,2.9,3,3.1,3.2,3.3,3.45,3.55,.1,.3,.35,1.7,1.8,1.6],
[0,.02,.04,.06,.08,.1,.12,.14,.16,.18,.2,.22,.25,.28,.3,.33,.33,.33,.33,.33,.33,.33,.33,.33,.33,.82,.35]
];
const tumorC3=[
[1.8,1.9,2,2.1,2.2,2.3,2.4,2.55,2.7,2.85,3,3.15,3.3,3.45,3.6,3.75,3.9,4.05,4.2,4.35,4.5,4.65,4.8,4.9,5.2,5.25,5.5,6.55,6.6,7.07,.9,1,1.1,1.2,3,1.45],
[2.5,2.6,2.7,2.85,3,3.15,3.3,3.45,3.6,3.75,3.9,4.05,4.2,4.35,4.5,4.65,4.8,4.95,5.1,5.2,5.3,5.4,5.5,5.6,5.7,5.8,5.9,6.75,6.8,7.05,7.55,1.8,2,1.9,1.3,2.1,2.2],
[0,.02,.04,.06,.08,.1,.12,.15,.18,.22,.26,.3,.33,.35,.38,.45,.55,.65,.75,.85,1.05,1.15,1.25,1.4,1.55,.85,3.1]
];

/* ---------- Layout (pixels) ---------- */
const layoutA={name:"a",axisX:119,top:82,axisY:562,right:1868,y0:534,sy:44.8,cx0:149.7,step:52.73,dodge:10.6,halfWidth:5,r:7.3,tickFont:28};
const layoutB1={name:"b1",axisX:105.6,top:755,axisY:1279.6,right:446,y0:1254.7,sy:72.55,cx0:168.8,step:106.8,dodge:21.3,halfWidth:10,r:7.3,labelShift:[-17,-2,12],labelY:1327};
const layoutB2={name:"b2",axisX:817.6,top:755,axisY:1279.6,right:1157.7,y0:1258,sy:72.07,cx0:880,step:107.3,dodge:21.3,halfWidth:10,r:7.3,labelShift:[-13,0,11],labelY:1327};
const layoutB3={name:"b3",axisX:1530.5,top:755,axisY:1279.6,right:1869,y0:1239,sy:59.2,cx0:1592.7,step:107,dodge:21.3,halfWidth:10,r:7.3,labelShift:[-16,-1,16],labelY:1327};
const layoutC1={name:"c1",axisX:105.6,top:1474,axisY:1997,right:446,y0:1974,sy:70.75,cx0:168.8,step:106.8,dodge:26.8,r:8,labelShift:[-14,2,13],labelY:2044};
const layoutC2={name:"c2",axisX:817.6,top:1474,axisY:1997,right:1157.7,y0:1976,sy:70.3,cx0:880,step:107.3,dodge:26.8,r:8,labelShift:[-13,0,11],labelY:2044};
const layoutC3={name:"c3",axisX:1530.5,top:1474,axisY:1997,right:1869,y0:1974,sy:59.8,cx0:1592.7,step:107,dodge:26.8,r:8,labelShift:[-16,-1,16],labelY:2044};

const INK="#1e1e1e",BLUE="#4DBBD5",RED="#E64B35";
const root=document.getElementById('figure');
function mk(tag,attrs,parent){
  const el=document.createElementNS('http://www.w3.org/2000/svg',tag);
  for(const k in attrs)el.setAttribute(k,attrs[k]);
  parent.appendChild(el);
  return el;
}
function yScale(p,v){return p.y0-v*p.sy;}
function xScale(p,i){return p.cx0+i*p.step;}

function drawFrame(p,cats,ticks,rotated){
  const g=mk('g',{},root);
  
  
  const yLine=mk('line',{x1:p.axisX,x2:p.axisX,y1:p.top,y2:p.axisY+1,stroke:INK,'stroke-width':2.6},g);
  
  
  const xLine=mk('line',{x1:p.axisX-1,x2:p.right,y1:p.axisY,y2:p.axisY,stroke:INK,'stroke-width':2.6},g);
  
  
  ticks.forEach(function(t){
    const y=yScale(p,t);
    const tk=mk('line',{x1:p.axisX-10,x2:p.axisX,y1:y,y2:y,stroke:INK,'stroke-width':2.4},g);
    
    
    const lb=mk('text',{x:p.axisX-19,y:y+10,'text-anchor':'end','font-size':28},g);
    
    
    lb.textContent=t;
  });
  cats.forEach(function(c,i){
    const x=xScale(p,i);
    const tk=mk('line',{x1:x,x2:x,y1:p.axisY,y2:p.axisY+10,stroke:INK,'stroke-width':2.4},g);
    
    
    const lb=rotated
      ?mk('text',{transform:'translate('+(x+10)+' 583) rotate(-90)','text-anchor':'end','font-size':28},g)
      :mk('text',{x:x+p.labelShift[i],y:p.labelY,'text-anchor':'middle','font-size':28.5},g);
    
    
    lb.textContent=c;
  });
}

/* local point density in 0..1 for each value */
function densityOf(values,p){
  return values.map(function(v,i){
    let near=0;
    values.forEach(function(w,j){if(j!==i&&Math.abs(w-v)*p.sy<14)near++;});
    return Math.min(1,Math.max(.12,near/4));
  });
}
/* quasirandom spread: sideways offset grows with local density */
function spread(values,p){
  const dens=densityOf(values,p);
  return values.map(function(v,i){
    const phase=(i*0.618034)%1;
    return p.halfWidth*(2*phase-1)*dens[i];
  });
}
/* solid body joining neighbouring points of a dense run */
function bodyPath(values,p,cx,halfWidth,maxGap){
  const dens=densityOf(values,p);
  let d='';
  for(let k=1;k<values.length;k++){
    const y1=yScale(p,values[k-1]),y2=yScale(p,values[k]);
    if(Math.abs(y1-y2)>maxGap)continue;
    const w=halfWidth*Math.min(dens[k-1],dens[k])+p.r-1.2;
    d+='M'+(cx-w)+' '+y1+'H'+(cx+w)+'V'+y2+'H'+(cx-w)+'Z';
  }
  return d;
}
function drawDots(p,values,cx,color,label,offsets){
  const g=mk('g',{fill:color},root);
  
  
  const body=mk('path',{d:bodyPath(values,p,cx,offsets?p.halfWidth:0,offsets?11:13)},g);
  
  
  values.forEach(function(v,i){
    const c=mk('circle',{cx:cx+(offsets?offsets[i]:0),cy:yScale(p,v),r:p.r},g);
    
    
  });
}
function drawError(p,x,s,cross,cap,label){
  if(!s)return;
  const g=mk('g',{stroke:'#000','stroke-width':2.8},root);
  
  
  mk('line',{x1:x,x2:x,y1:yScale(p,s[1]),y2:yScale(p,s[2])},g);
  mk('line',{x1:x-cross,x2:x+cross,y1:yScale(p,s[0]),y2:yScale(p,s[0])},g);
  mk('line',{x1:x-cap,x2:x+cap,y1:yScale(p,s[1]),y2:yScale(p,s[1])},g);
  mk('line',{x1:x-cap,x2:x+cap,y1:yScale(p,s[2]),y2:yScale(p,s[2])},g);
}
function drawBracket(p,i,value,sig){
  const cx=xScale(p,i),l=cx-p.dodge,r=cx+p.dodge,y=yScale(p,value);
  const path=mk('path',{d:'M'+l+' '+(y+11)+'V'+y+'H'+r+'V'+(y+11),fill:'none',stroke:INK,'stroke-width':2.6},root);
  
  
  const t=mk('text',{x:cx,y:y+3,'text-anchor':'middle','font-size':23},root);
  
  
  t.textContent=sig;
}

function drawPanelA(p){
  drawFrame(p,cancersA,yTicksA,true);
  cancersA.forEach(function(c,i){
    const cx=xScale(p,i),solo=normalA[i].length===0;
    if(!solo)drawDots(p,normalA[i],cx-p.dodge,BLUE,'normal-'+c,spread(normalA[i],p));
    drawDots(p,tumorA[i],solo?cx:cx+p.dodge,RED,'tumor-'+c,spread(tumorA[i],p));
  });
  cancersA.forEach(function(c,i){
    const cx=xScale(p,i),solo=normalA[i].length===0;
    drawError(p,cx-p.dodge,statsNormalA[i],5,1.5,'error-bar-normal-'+c);
    drawError(p,solo?cx:cx+p.dodge,statsTumorA[i],solo?10:5,1.5,'error-bar-tumor-'+c);
    const sig=sigA[i];
    if(sig){
      const ns=sig==='ns';
      const t=mk('text',{x:cx,y:ns?121.5:129,'text-anchor':'middle','font-size':ns?24:23},root);
      
      
      t.textContent=sig;
    }
  });
}
function drawPanelB(p,genes,normal,tumor,statsN,statsT,sig,bracket,ticks){
  drawFrame(p,genes,ticks,false);
  genes.forEach(function(g,i){
    const cx=xScale(p,i);
    drawDots(p,normal[i],cx-p.dodge,BLUE,'normal-'+g,spread(normal[i],p));
    drawDots(p,tumor[i],cx+p.dodge,RED,'tumor-'+g,spread(tumor[i],p));
    drawError(p,cx-p.dodge,statsN[i],10,3.5,'error-bar-normal-'+g);
    drawError(p,cx+p.dodge,statsT[i],10,3.5,'error-bar-tumor-'+g);
    drawBracket(p,i,bracket[i],sig[i]);
  });
}
function drawPanelC(p,genes,normal,tumor,sig,bracket,ticks,bundle){
  drawFrame(p,genes,ticks,false);
  genes.forEach(function(g,i){
    const cx=xScale(p,i),xn=cx-p.dodge,xt=cx+p.dodge;
    const links=mk('g',{stroke:'#000','stroke-width':2.4,fill:'#000'},root);
    
    
    normal[i].forEach(function(v,k){
      const y1=yScale(p,v),y2=yScale(p,tumor[i][k]);
      mk('line',{x1:xn,x2:xt,y1:y1,y2:y2},links);
      if(k>0&&k<bundle[i]){
        const py1=yScale(p,normal[i][k-1]),py2=yScale(p,tumor[i][k-1]);
        const dn=Math.abs(y1-py1),dt=Math.abs(y2-py2);
        if(dn>=.5&&dn<=30&&dt<=70){
          mk('polygon',{points:xn+','+y1+' '+xt+','+y2+' '+xt+','+py2+' '+xn+','+py1,stroke:'none'},links);
        }
      }
    });
    drawDots(p,normal[i].slice().sort(function(a,b){return a-b;}),xn,BLUE,'normal-'+g,null);
    drawDots(p,tumor[i].slice().sort(function(a,b){return a-b;}),xt,RED,'tumor-'+g,null);
    drawBracket(p,i,bracket[i],sig[i]);
  });
}
drawPanelA(layoutA);
drawPanelB(layoutB1,genesB1,normalB1,tumorB1,statsNormalB1,statsTumorB1,sigB1,bracketB1,yTicksB1);
drawPanelB(layoutB2,genesB2,normalB2,tumorB2,statsNormalB2,statsTumorB2,sigB2,bracketB2,yTicksB2);
drawPanelB(layoutB3,genesB3,normalB3,tumorB3,statsNormalB3,statsTumorB3,sigB3,bracketB3,yTicksB3);
drawPanelC(layoutC1,genesB1,normalC1,tumorC1,sigC1,bracketC1,yTicksB1,bundleC1);
drawPanelC(layoutC2,genesB2,normalC2,tumorC2,sigC2,bracketC2,yTicksB2,bundleC2);
drawPanelC(layoutC3,genesB3,normalC3,tumorC3,sigC3,bracketC3,yTicksB3,bundleC3);
</script>
</body></html>
